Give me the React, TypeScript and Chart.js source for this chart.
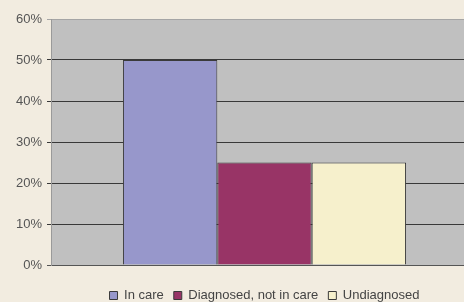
import React, { useEffect, useRef } from "react";
import { Chart, registerables } from "chart.js";

Chart.register(...registerables);

const categories = [""];
const seriesNames = ["In care", "Diagnosed, not in care", "Undiagnosed"];
const seriesValues = [[50], [25], [25]];
const seriesColors = ["#9797CB", "#983466", "#F6F0CC"];
const yTicks = [0, 10, 20, 30, 40, 50, 60];

const plotBg = {
  id: "plotBg",
  beforeDraw(chart: any) {
    const { ctx, chartArea } = chart;
    ctx.save();
    ctx.fillStyle = "#C0C0C0";
    ctx.fillRect(chartArea.left, chartArea.top, chartArea.right - chartArea.left, chartArea.bottom - chartArea.top);
    ctx.restore();
  },
};

export default function App() {
  const ref = useRef<HTMLCanvasElement>(null);
  useEffect(() => {
    document.body.style.margin = "0";
    document.body.style.background = "#F2ECE0";
    const chart = new Chart(ref.current!, {
      type: "bar",
      data: {
        labels: categories,
        datasets: seriesNames.map((n, i) => ({
          label: n,
          data: seriesValues[i],
          backgroundColor: seriesColors[i],
          borderColor: "#3a3a3a",
          borderWidth: 1,
          barPercentage: 1,
          categoryPercentage: 0.663,
        })),
      },
      options: {
        animation: false,
        responsive: false,
        maintainAspectRatio: false,
        layout: { padding: { top: 19, left: 0, right: 0, bottom: -10 } },
        plugins: {
          tooltip: { enabled: false },
          legend: {
            position: "bottom",
            fullSize: false,
            labels: {
              boxWidth: 8,
              boxHeight: 8,
              padding: 10,
              color: "#444",
              font: { family: "Liberation Sans", size: 13, lineHeight: 1.2 },
            },
          },
        },
        scales: {
          x: {
            display: true,
            ticks: { display: false },
            grid: { display: false },
            border: { display: false },
            afterFit: (s: any) => {
              s.height = 14;
            },
          },
          y: {
            min: 0,
            max: 60,
            afterBuildTicks: (s: any) => {
              s.ticks = yTicks.map((v) => ({ value: v }));
            },
            afterFit: (s: any) => {
              s.width = 51;
            },
            ticks: {
              color: "#555",
              padding: 5,
              font: { family: "Liberation Sans", size: 13 },
              callback: (v: any) => v + "%",
            },
            border: { color: "#9a9a9a", width: 1 },
            grid: {
              color: (c: any) => (c.tick && c.tick.value === 60 ? "#a5a5a5" : c.tick && c.tick.value === 0 ? "#555" : "#383838"),
              lineWidth: 1,
              tickLength: 4,
            },
          },
        },
      },
      plugins: [plotBg],
    });
    return () => chart.destroy();
  }, []);
  return (
    <div style={{ position: "fixed", left: 0, top: 0, width: 464, height: 302, overflow: "hidden", background: "#F2ECE0" }}>
      <canvas ref={ref} width={478} height={302} style={{ display: "block", width: 478, height: 302 }} />
    </div>
  );
}
